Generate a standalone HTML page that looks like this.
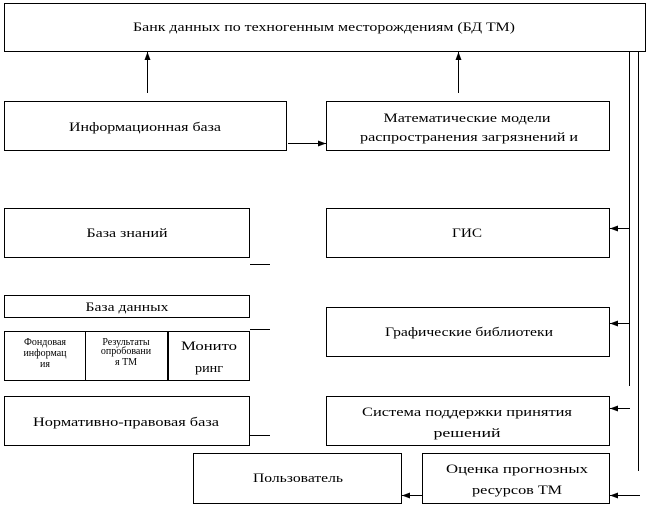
<!DOCTYPE html>
<html><head><meta charset="utf-8"><style>
html,body{margin:0;padding:0;background:#fff;}
svg{display:block;}
svg text{font-family:"Liberation Serif","DejaVu Serif",serif;font-size:13px;fill:#000;}
svg text.s{font-size:10px;}
</style></head><body>
<svg width="650" height="506" xmlns="http://www.w3.org/2000/svg">
<defs><marker id="a" markerWidth="8" markerHeight="6" refX="8" refY="3" orient="auto" markerUnits="userSpaceOnUse"><path d="M0,0 L8,3 L0,6 z" fill="#000"/></marker></defs>
<g fill="none" stroke="#000" stroke-width="1">
<rect x="4.5" y="3.5" width="641" height="48"/>
<rect x="4.5" y="101.5" width="282" height="49"/>
<rect x="326.5" y="101.5" width="283" height="49"/>
<rect x="4.5" y="208.5" width="245" height="49"/>
<rect x="326.5" y="208.5" width="283" height="49"/>
<rect x="4.5" y="295.5" width="245" height="22"/>
<rect x="4.5" y="331.5" width="81" height="49"/>
<rect x="85.5" y="331.5" width="82" height="49"/>
<rect x="168.5" y="331.5" width="81" height="49"/>
<rect x="4.5" y="396.5" width="245" height="49"/>
<rect x="326.5" y="307.5" width="283" height="49"/>
<rect x="326.5" y="396.5" width="283" height="49"/>
<rect x="193.5" y="453.5" width="208" height="50"/>
<rect x="422.5" y="453.5" width="187" height="50"/>
<line x1="250" y1="264.5" x2="270" y2="264.5"/>
<line x1="250" y1="329.5" x2="270" y2="329.5"/>
<line x1="250" y1="435.5" x2="270" y2="435.5"/>
<line x1="629.5" y1="52" x2="629.5" y2="386"/>
<line x1="638.5" y1="52" x2="638.5" y2="471"/>
<line x1="147.5" y1="93" x2="147.5" y2="52" marker-end="url(#a)"/>
<line x1="458.5" y1="93" x2="458.5" y2="52" marker-end="url(#a)"/>
<line x1="288" y1="143.5" x2="326" y2="143.5" marker-end="url(#a)"/>
<line x1="629" y1="228.5" x2="610" y2="228.5" marker-end="url(#a)"/>
<line x1="629" y1="323.5" x2="610" y2="323.5" marker-end="url(#a)"/>
<line x1="630" y1="408.5" x2="610" y2="408.5" marker-end="url(#a)"/>
<line x1="640" y1="495.5" x2="610" y2="495.5" marker-end="url(#a)"/>
<line x1="422" y1="495.5" x2="402" y2="495.5" marker-end="url(#a)"/>
</g>
<g text-anchor="middle">
<text x="324" y="31" textLength="382" lengthAdjust="spacingAndGlyphs">Банк данных по техногенным месторождениям (БД ТМ)</text>
<text x="145" y="131" textLength="152" lengthAdjust="spacingAndGlyphs">Информационная база</text>
<text x="467" y="122" textLength="167" lengthAdjust="spacingAndGlyphs">Математические модели</text>
<text x="469" y="141" textLength="218" lengthAdjust="spacingAndGlyphs">распространения загрязнений и</text>
<text x="127" y="237" textLength="81" lengthAdjust="spacingAndGlyphs">База знаний</text>
<text x="467" y="237" textLength="30" lengthAdjust="spacingAndGlyphs">ГИС</text>
<text x="127" y="311" textLength="83" lengthAdjust="spacingAndGlyphs">База данных</text>
<text class="s" x="45" y="345">Фондовая</text>
<text class="s" x="45" y="356">информац</text>
<text class="s" x="45" y="367">ия</text>
<text class="s" x="126" y="345">Результаты</text>
<text class="s" x="126" y="354">опробовани</text>
<text class="s" x="126" y="365">я ТМ</text>
<text x="209" y="350" textLength="56" lengthAdjust="spacingAndGlyphs">Монито</text>
<text x="209" y="372" textLength="28" lengthAdjust="spacingAndGlyphs">ринг</text>
<text x="126" y="426" textLength="186" lengthAdjust="spacingAndGlyphs">Нормативно-правовая база</text>
<text x="469" y="336" textLength="168" lengthAdjust="spacingAndGlyphs">Графические библиотеки</text>
<text x="467" y="416" textLength="210" lengthAdjust="spacingAndGlyphs">Система поддержки принятия</text>
<text x="467" y="437" textLength="67" lengthAdjust="spacingAndGlyphs">решений</text>
<text x="298" y="482" textLength="90" lengthAdjust="spacingAndGlyphs">Пользователь</text>
<text x="517" y="473" textLength="142" lengthAdjust="spacingAndGlyphs">Оценка прогнозных</text>
<text x="517" y="494" textLength="90" lengthAdjust="spacingAndGlyphs">ресурсов ТМ</text>
</g>
</svg>
</body></html>
